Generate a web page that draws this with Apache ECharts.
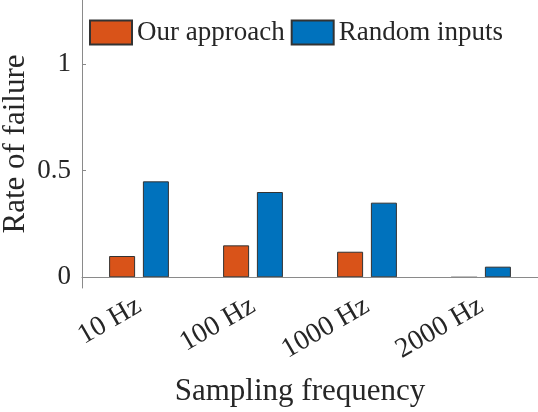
<!DOCTYPE html>
<html>
<head>
<meta charset="utf-8">
<script src="https://cdn.jsdelivr.net/npm/echarts@6/dist/echarts.min.js"></script>
<style>
  body { margin: 0; padding: 0; background: #fff; }
  #chart { width: 538px; height: 412px; }
</style>
</head>
<body>
<div id="chart"></div>
<script>
// sampling frequencies on the x axis
const frequencies = ["10 Hz", "100 Hz", "1000 Hz", "2000 Hz"];
// rate of failure per method
const ourApproach = [0.1, 0.15, 0.12, 0];
const randomInputs = [0.45, 0.4, 0.35, 0.05];
const yTicks = [0, 0.5, 1];

const font = "Liberation Serif";
const textColor = "#262626";
const axisColor = "#8a8a8a";

let chart = echarts.init(document.getElementById("chart"));
chart.setOption({
  animation: false,
  textStyle: { fontFamily: font },
  legend: {
    top: 14,
    left: 84,
    itemWidth: 42,
    itemHeight: 24,
    itemGap: 6,
    icon: "rect",
    textStyle: { fontFamily: font, fontSize: 27, color: textColor },
    data: ["Our approach", "Random inputs"],
  },
  grid: { left: 82, right: 0, top: 0, bottom: 124, containLabel: false, outerBoundsMode: "none" },
  xAxis: {
    type: "category",
    data: frequencies,
    boundaryGap: true,
    name: "Sampling frequency",
    nameLocation: "middle",
    nameGap: 88,
    nameMoveOverlap: false,
    nameTextStyle: { fontFamily: font, fontSize: 31, color: textColor, padding: [0, 20, 0, 0] },
    axisLine: { lineStyle: { color: axisColor, width: 1 } },
    axisTick: { inside: true, length: 4, alignWithLabel: true, lineStyle: { color: axisColor } },
    axisLabel: { rotate: 30, margin: 16, fontFamily: font, fontSize: 28, color: textColor },
  },
  yAxis: {
    type: "value",
    min: -0.05,
    max: 1.3,
    name: "Rate of failure",
    nameLocation: "middle",
    nameGap: 51,
    nameMoveOverlap: false,
    nameTextStyle: { fontFamily: font, fontSize: 31, color: textColor },
    axisLine: { show: true, lineStyle: { color: axisColor, width: 1 } },
    axisTick: { show: true, inside: true, length: 4, customValues: yTicks, lineStyle: { color: axisColor } },
    axisLabel: { customValues: yTicks, margin: 11, fontFamily: font, fontSize: 27, color: textColor },
    splitLine: { show: false },
  },
  series: [
    {
      name: "Our approach",
      type: "bar",
      data: ourApproach,
      barWidth: 26,
      barGap: "30%",
      itemStyle: { color: "#D95319", borderColor: "#333", borderWidth: 1 },
      markLine: {
        silent: true,
        symbol: "none",
        label: { show: false },
        lineStyle: { color: axisColor, type: "solid", width: 1 },
        data: [{ yAxis: 0 }],
      },
    },
    {
      name: "Random inputs",
      type: "bar",
      data: randomInputs,
      barWidth: 26,
      barGap: "30%",
      itemStyle: { color: "#0072BD", borderColor: "#333", borderWidth: 1 },
    },
  ],
});
</script>
</body>
</html>
